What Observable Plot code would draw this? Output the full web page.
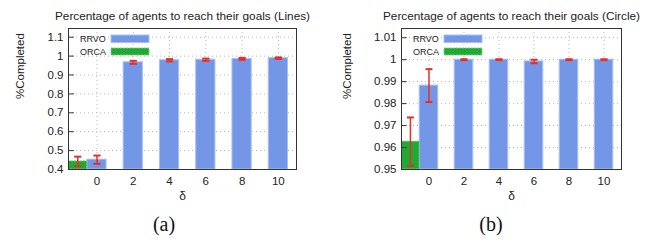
<!DOCTYPE html>
<html>
<head>
<meta charset="utf-8">
<script src="https://cdn.jsdelivr.net/npm/d3@7"></script>
<script src="https://cdn.jsdelivr.net/npm/@observablehq/plot@0.6"></script>
<style>
  html, body { margin: 0; padding: 0; background: #fff; }
  #row { display: flex; width: 654px; height: 242px; }
  svg { display: block; }
</style>
</head>
<body>
<div id="row"></div>
<script>
// ---- data ----
const deltaLabels = ["0", "2", "4", "6", "8", "10"];
const seriesNames = ["RRVO", "ORCA"];

// (a) Lines
const linesRRVO    = [0.452, 0.967, 0.978, 0.981, 0.985, 0.989];
const linesRRVOErr = [0.022, 0.008, 0.006, 0.006, 0.005, 0.004];
const linesORCA    = [0.443];
const linesORCAErr = [0.025];
const linesYTicks  = [0.4, 0.5, 0.6, 0.7, 0.8, 0.9, 1.0, 1.1];

// (b) Circle
const circleRRVO    = [0.9882, 1.0, 1.0, 0.9992, 1.0, 1.0];
const circleRRVOErr = [0.0075, 0.0002, 0.0002, 0.0008, 0.0002, 0.0002];
const circleORCA    = [0.9627];
const circleORCAErr = [0.0110];
const circleYTicks  = [0.95, 0.96, 0.97, 0.98, 0.99, 1.0, 1.01];

const BLUE = "#7397e6", BLUE_EDGE = "#a9bff2";
const GREEN = "#1faa35", GREEN_EDGE = "#7fd67f";
const RED = "#e5302a";
const FONT = "Liberation Sans, Arial, sans-serif";
const BW = 0.53; // bar width in category units

function chart({title, tag, rrvo, rrvoErr, orca, orcaErr, yDomain, yTicks, marginLeft, marginRight, yLabelOffset}) {
  const rrvoData = rrvo.map((v, i) => ({i, v, e: rrvoErr[i]}));
  const orcaData = orca.map((v, i) => ({i, v, e: orcaErr[i]}));
  const xTicks = deltaLabels.map((d, i) => i);
  const fmt = d => String(+d.toFixed(3));

  const legend = (index, scales, values, dims) => {
    const g = d3.create("svg:g");
    const x0 = dims.marginLeft, y0 = dims.marginTop;
    g.append("rect").attr("x", x0 + 43).attr("y", y0 + 7).attr("width", 38).attr("height", 7.5)
      .attr("fill", BLUE).attr("stroke", BLUE_EDGE).attr("stroke-width", 1);
    g.append("rect").attr("x", x0 + 43).attr("y", y0 + 20).attr("width", 38).attr("height", 7)
      .attr("fill", GREEN).attr("stroke", GREEN_EDGE).attr("stroke-width", 1).attr("stroke-dasharray", "2,1");
    seriesNames.forEach((s, k) => {
      g.append("text").attr("x", x0 + 12).attr("y", y0 + 11 + k * 12.5).attr("dy", "0.35em")
        .attr("text-anchor", "start")
        .attr("font-family", FONT).attr("font-size", 9).attr("fill", "#222").text(s);
    });
    return g.node();
  };

  return Plot.plot({
    width: 327,
    height: 242,
    marginTop: 28,
    marginBottom: 73,
    marginLeft,
    marginRight,
    style: {fontFamily: FONT, background: "white", overflow: "visible"},
    x: {type: "linear", domain: [-0.785, 5.5], axis: null, label: null},
    y: {domain: yDomain, axis: null, label: null},
    marks: [
      Plot.gridY(yTicks, {stroke: "#bbb", strokeOpacity: 1, strokeDasharray: "1,3"}),
      Plot.gridX(xTicks, {stroke: "#bbb", strokeOpacity: 1, strokeDasharray: "1,3"}),
      Plot.rectY(rrvoData, {x1: d => d.i - BW / 2, x2: d => d.i + BW / 2, y1: yDomain[0], y2: "v",
        fill: BLUE, stroke: BLUE_EDGE, strokeWidth: 1, clip: true}),
      Plot.rectY(orcaData, {x1: d => d.i - 1.5 * BW, x2: d => d.i - BW / 2, y1: yDomain[0], y2: "v",
        fill: GREEN, stroke: GREEN_EDGE, strokeWidth: 1, strokeDasharray: "2,1", clip: true}),
      // error bars
      Plot.ruleX(rrvoData, {x: "i", y1: d => d.v - d.e, y2: d => d.v + d.e, stroke: RED, strokeWidth: 1.5}),
      Plot.link(rrvoData, {x1: d => d.i - 0.1, x2: d => d.i + 0.1, y1: d => d.v - d.e, y2: d => d.v - d.e, stroke: RED, strokeWidth: 2}),
      Plot.link(rrvoData, {x1: d => d.i - 0.1, x2: d => d.i + 0.1, y1: d => d.v + d.e, y2: d => d.v + d.e, stroke: RED, strokeWidth: 2}),
      Plot.ruleX(orcaData, {x: d => d.i - BW, y1: d => d.v - d.e, y2: d => d.v + d.e, stroke: RED, strokeWidth: 1.5}),
      Plot.link(orcaData, {x1: d => d.i - BW - 0.1, x2: d => d.i - BW + 0.1, y1: d => d.v - d.e, y2: d => d.v - d.e, stroke: RED, strokeWidth: 2}),
      Plot.link(orcaData, {x1: d => d.i - BW - 0.1, x2: d => d.i - BW + 0.1, y1: d => d.v + d.e, y2: d => d.v + d.e, stroke: RED, strokeWidth: 2}),
      // inward y ticks
      Plot.ruleY(yTicks, {x1: -0.785, x2: -0.785 + 0.16, stroke: "#333", strokeWidth: 1}),
      Plot.frame({stroke: "#333", strokeWidth: 1}),
      Plot.axisY(yTicks, {tickSize: 0, tickPadding: 5, tickFormat: fmt, fontSize: 11.5, fill: "#222", label: null}),
      Plot.axisX(xTicks, {tickSize: 0, tickPadding: 7, tickFormat: i => deltaLabels[i], fontSize: 11.5, fill: "#222", label: null}),
      legend,
      Plot.text([title], {frameAnchor: "top", dy: -17, fontSize: 11.8, fill: "#222"}),
      Plot.text(["%Completed"], {frameAnchor: "left", dx: -yLabelOffset, rotate: -90, fontSize: 11.5, fill: "#222"}),
      Plot.text(["δ"], {frameAnchor: "bottom", dy: 30, fontSize: 12, fill: "#222"}),
      Plot.text([tag], {frameAnchor: "bottom", dx: (marginRight - marginLeft) / 2, dy: 61, fontSize: 20,
        fontFamily: "Liberation Serif, Times New Roman, serif", fill: "#111"})
    ]
  });
}

const row = document.getElementById("row");
row.append(chart({
  title: "Percentage of agents to reach their goals (Lines)", tag: "(a)",
  rrvo: linesRRVO, rrvoErr: linesRRVOErr, orca: linesORCA, orcaErr: linesORCAErr,
  yDomain: [0.4, 1.146], yTicks: linesYTicks, marginLeft: 68, marginRight: 31, yLabelOffset: 48
}));
row.append(chart({
  title: "Percentage of agents to reach their goals (Circle)", tag: "(b)",
  rrvo: circleRRVO, rrvoErr: circleRRVOErr, orca: circleORCA, orcaErr: circleORCAErr,
  yDomain: [0.95, 1.0142], yTicks: circleYTicks, marginLeft: 74, marginRight: 33, yLabelOffset: 54
}));
</script>
</body>
</html>
